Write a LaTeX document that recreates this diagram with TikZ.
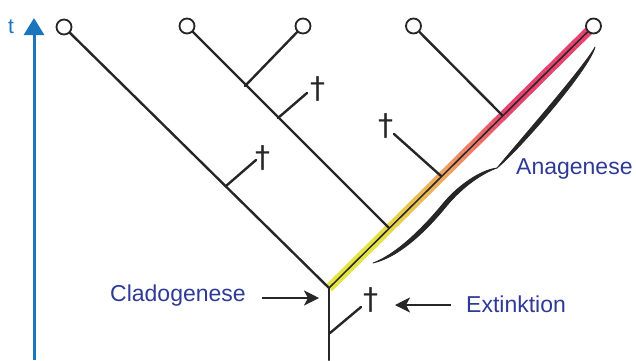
\documentclass[tikz,border=0pt]{standalone}
\usepackage{fontspec}
\setmainfont{Liberation Sans}
\newfontfamily\dejavu{DejaVu Sans}
\usetikzlibrary{arrows.meta,calc}
\definecolor{axisblue}{HTML}{1A75BC}
\definecolor{labelblue}{HTML}{2E3A96}
\definecolor{bandY}{HTML}{E4E440}
\definecolor{bandO}{HTML}{F0A060}
\definecolor{bandR}{HTML}{E6406C}
\tikzset{
  branch/.style={line width=2.4pt, black!85, line cap=round},
  leaf/.style={circle, draw=black!85, line width=1.8pt, minimum size=15pt, inner sep=0pt, fill=white},
  dagsym/.style={font=\dejavu\fontsize{30}{30}\selectfont, inner sep=0pt, text=black!85},
  lbl/.style={font=\fontsize{23}{23}\selectfont, text=labelblue, inner sep=0pt},
  pointer/.style={line width=2.3pt, black!85, -{Stealth[length=15pt,width=15pt,inset=4pt]}},
  bracepen/.style={fill=black!85, draw=black!85, line width=0.8pt, line join=round},
}
\begin{document}
\begin{tikzpicture}[x=1pt,y=-1pt]
\useasboundingbox (0,0) rectangle (636,360);
% time axis
\coordinate (ax0) at (34,360);
\coordinate (ax1) at (34,18);
\draw[axisblue, line width=3pt, -{Triangle[length=17pt,width=20pt]}] (ax0) -- (ax1);
\node[font=\fontsize{21}{21}\selectfont, text=axisblue, anchor=base west, inner sep=0pt] (t) at (8,33) {t};
% key points
\coordinate (R) at (329,288);
\coordinate (B) at (329,360);
\coordinate (J23) at (245,86);
\coordinate (J2R) at (389,228);
\coordinate (J4R) at (502,115);
\coordinate (L5c) at (593.5,26);
% colour band on the anagenesis line
\foreach \i in {0,...,79}{
  \pgfmathsetmacro{\ta}{\i/80}
  \pgfmathsetmacro{\tb}{(\i+1)/80}
  \pgfmathsetmacro{\tm}{(\i+0.5)/80}
  \pgfmathsetmacro{\pa}{max(0,min(100,(\tm-0.18)*100/0.27))}
  \pgfmathsetmacro{\pb}{max(0,min(100,(\tm-0.45)*100/0.22))}
  \colorlet{segc}{bandO!\pa!bandY}
  \colorlet{segc}{bandR!\pb!segc}
  \draw[segc, line width=9pt] ($(R)!\ta!(L5c)$) -- ($(R)!\tb!(L5c)$);
}
% leaves
\node[leaf] (L1) at (64,27) {};
\node[leaf] (L2) at (187,26) {};
\node[leaf] (L3) at (303,26) {};
\node[leaf] (L4) at (413.5,26) {};
\node[leaf] (L5) at (593.5,26) {};
% tree
\draw[branch] (L1) -- (R);
\draw[branch] (L2) -- (J2R);
\draw[branch] (L3) -- (J23);
\draw[branch] (L4) -- (J4R);
\draw[line width=1.5pt, black!85] (R) -- (L5);
\draw[branch] (R) -- (B);
% extinct side branches
\coordinate (D1s) at (226,186); \coordinate (D1e) at (256,160);
\coordinate (D2s) at (278,118); \coordinate (D2e) at (307,93);
\coordinate (D3s) at (441,176); \coordinate (D3e) at (394,134);
\coordinate (D4s) at (330,333); \coordinate (D4e) at (361,307);
\draw[branch] (D1s) -- (D1e);
\draw[branch] (D2s) -- (D2e);
\draw[branch] (D3s) -- (D3e);
\draw[branch] (D4s) -- (D4e);
\node[dagsym] (g1) at (263,158) {†};
\node[dagsym] (g2) at (318,89) {†};
\node[dagsym] (g3) at (386,126) {†};
\node[dagsym] (g4) at (371,300) {†};
% calligraphic brace
\coordinate (brA) at (595,47);
\coordinate (brC) at (497,168);
\coordinate (brM) at (443,207);
\coordinate (brB) at (373,263);
\fill[bracepen] (brA) .. controls (587+2,68+2) and (517+2,148+2) .. (brC)
  .. controls (517-2,148-2) and (587-2,68-2) .. (brA) -- cycle;
\fill[bracepen] (brC) .. controls (480,171+3) and (458+1.5,188+1.5) .. ($(brM)+(1.5,1.5)$)
  .. controls (428+1.5,225+1.5) and (400+1.5,255+1.5) .. (brB)
  .. controls (400-1.5,255-1.5) and (428-1.5,225-1.5) .. ($(brM)-(1.5,1.5)$)
  .. controls (458-1.5,188-1.5) and (480,171-1) .. (brC) -- cycle;
% labels
\node[lbl, anchor=base west] (ana) at (516,174) {Anagenese};
\node[lbl, anchor=base west] (clado) at (110,301) {Cladogenese};
\node[lbl, anchor=base west] (ext) at (466,312) {Extinktion};
% pointers
\coordinate (cp0) at (262,298);
\coordinate (cp1) at (319,298);
\draw[pointer] (cp0) -- (cp1);
\coordinate (ep0) at (451,305);
\coordinate (ep1) at (395,305);
\draw[pointer] (ep0) -- (ep1);
\end{tikzpicture}
\end{document}
